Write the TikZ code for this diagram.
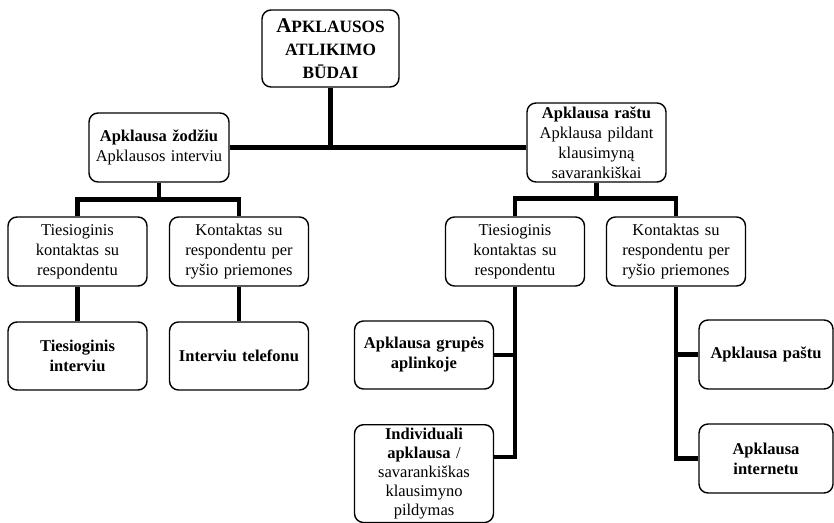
\documentclass[tikz,border=0pt]{standalone}
\usepackage{fontspec}
\setmainfont{Liberation Serif}
\usetikzlibrary{calc}
\newcommand{\bigA}[1]{{\fontsize{21}{22.7}\selectfont #1}}

\begin{document}
\begin{tikzpicture}[x=1pt,y=-1pt,
    box/.style={draw,line width=1.4pt,rounded corners=9pt,align=center,
      text width=132pt,minimum width=139pt,minimum height=69pt,inner sep=1.5pt,
      font=\fontsize{16.5}{20}\selectfont},
    leaf/.style={box,font=\bfseries\fontsize{16.5}{20}\selectfont},
    link/.style={line width=4.5pt}]
  \useasboundingbox (0,0) rectangle (834,522);
  % root
  \node[box,minimum width=137pt,minimum height=77pt,
        font=\bfseries\fontsize{17.3}{22.7}\selectfont] (root) at (330.5,48.5)
    {\bigA{A}PKLAUSOS\\ATLIKIMO\\BŪDAI};
  % two ways of asking
  \node[box,minimum width=140pt] (oral) at (159,147.5)
    {\textbf{Apklausa žodžiu}\\Apklausos interviu};
  \node[box,minimum height=79pt] (written) at (596.5,142.5)
    {\textbf{Apklausa raštu}\\Apklausa pildant\\klausimyną\\savarankiškai};
  % kind of contact
  \node[box] (oraldirect) at (77.5,251.5) {Tiesioginis\\kontaktas su\\respondentu};
  \node[box] (oralremote) at (239,251.5) {Kontaktas su\\respondentu per\\ryšio priemones};
  \node[box] (writdirect) at (515,251.5) {Tiesioginis\\kontaktas su\\respondentu};
  \node[box] (writremote) at (676,251.5) {Kontaktas su\\respondentu per\\ryšio priemones};
  % methods
  \node[leaf,minimum height=68pt] (faceint) at (77.5,356) {Tiesioginis\\interviu};
  \node[leaf,minimum height=68pt] (phone) at (239,356) {Interviu telefonu};
  \node[leaf,minimum height=68pt] (group) at (424,355) {Apklausa grupės\\aplinkoje};
  \node[box,minimum height=0pt,inner sep=3pt,anchor=north,
        font=\fontsize{16.5}{19.2}\selectfont] (indiv) at (424,424)
    {\textbf{Individuali}\\\textbf{apklausa} /\\savarankiškas\\klausimyno\\pildymas};
  \node[leaf,minimum width=134pt,text width=128pt] (post) at (766,354.5) {Apklausa paštu};
  \node[leaf,minimum width=134pt,text width=128pt] (web) at (766,458.5) {Apklausa\\internetu};
  % connectors
  \draw[link] (root.south) -- (root.south |- oral.east);
  \draw[link] (oral.east) -- (oral.east -| written.west);
  \draw[link] (oral.south) -- ++(0,17) coordinate (oralbus);
  \draw[link] (oraldirect.north) |- (oralbus) -| (oralremote.north);
  \draw[link] (written.south) -- ++(0,16) coordinate (writbus);
  \draw[link] (writdirect.north) |- (writbus) -| (writremote.north);
  \draw[link] (oraldirect.south) -- (faceint.north);
  \draw[link] (oralremote.south) -- (phone.north);
  \draw[link] (writdirect.south) |- ([yshift=-33pt]indiv.north east);
  \draw[link] (writdirect.south |- group.east) -- (group.east);
  \draw[link] (writremote.south) |- (web.west);
  \draw[link] (writremote.south |- post.west) -- (post.west);
\end{tikzpicture}
\end{document}
